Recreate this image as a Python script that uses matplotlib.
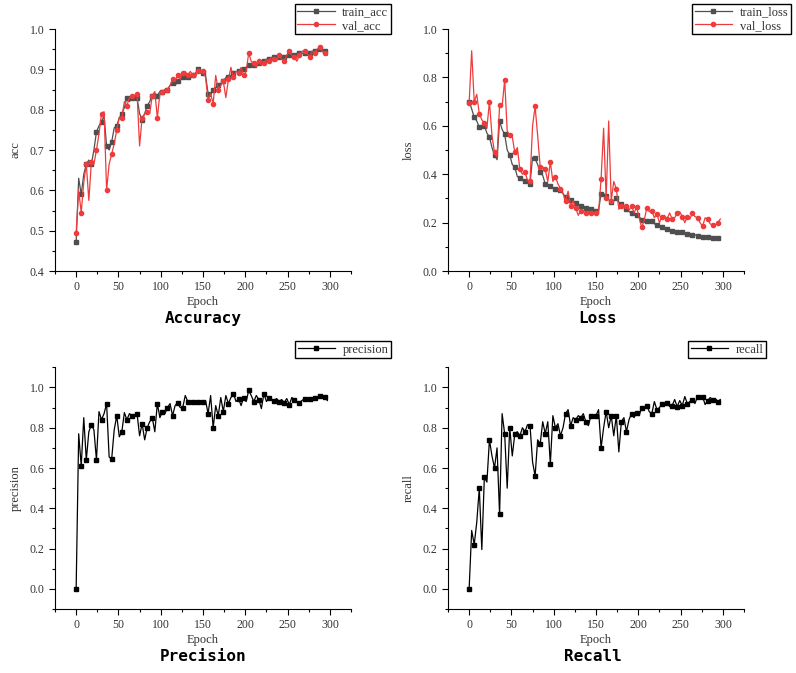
import matplotlib
matplotlib.use('Agg')
import matplotlib.pyplot as plt
from matplotlib.ticker import MultipleLocator

plt.rc('font', family='Liberation Serif')

# epochs sampled every 3
epochs = list(range(0, 300, 3))

train_acc = [0.473, 0.630, 0.590, 0.640, 0.665, 0.675, 0.665, 0.700, 0.745, 0.760,
             0.770, 0.785, 0.710, 0.700, 0.720, 0.755, 0.760, 0.780, 0.790, 0.805,
             0.830, 0.820, 0.830, 0.835, 0.830, 0.790, 0.775, 0.790, 0.810, 0.820,
             0.835, 0.840, 0.835, 0.845, 0.845, 0.850, 0.850, 0.860, 0.865, 0.860,
             0.870, 0.875, 0.880, 0.885, 0.880, 0.885, 0.885, 0.890, 0.900, 0.890,
             0.890, 0.885, 0.840, 0.835, 0.850, 0.855, 0.860, 0.865, 0.870, 0.880,
             0.880, 0.885, 0.890, 0.895, 0.895, 0.900, 0.900, 0.905, 0.910, 0.915,
             0.910, 0.915, 0.915, 0.920, 0.920, 0.925, 0.925, 0.925, 0.930, 0.930,
             0.930, 0.935, 0.930, 0.935, 0.935, 0.935, 0.935, 0.940, 0.940, 0.940,
             0.940, 0.945, 0.940, 0.945, 0.945, 0.945, 0.950, 0.945, 0.945, 0.945]

val_acc = [0.495, 0.600, 0.545, 0.620, 0.665, 0.575, 0.670, 0.665, 0.700, 0.740,
           0.790, 0.795, 0.600, 0.665, 0.690, 0.715, 0.750, 0.780, 0.780, 0.820,
           0.810, 0.830, 0.835, 0.835, 0.840, 0.710, 0.780, 0.790, 0.795, 0.790,
           0.835, 0.845, 0.780, 0.840, 0.845, 0.850, 0.850, 0.860, 0.875, 0.870,
           0.885, 0.875, 0.890, 0.895, 0.885, 0.895, 0.885, 0.880, 0.895, 0.890,
           0.895, 0.880, 0.825, 0.840, 0.815, 0.885, 0.850, 0.860, 0.870, 0.830,
           0.875, 0.905, 0.880, 0.895, 0.890, 0.905, 0.885, 0.895, 0.940, 0.920,
           0.915, 0.905, 0.920, 0.910, 0.915, 0.925, 0.920, 0.930, 0.925, 0.920,
           0.935, 0.925, 0.920, 0.935, 0.945, 0.935, 0.930, 0.920, 0.935, 0.945,
           0.945, 0.940, 0.930, 0.945, 0.940, 0.950, 0.955, 0.945, 0.940, 0.935]

train_loss = [0.700, 0.670, 0.635, 0.620, 0.595, 0.590, 0.600, 0.570, 0.555, 0.510,
              0.480, 0.460, 0.620, 0.585, 0.565, 0.500, 0.480, 0.440, 0.430, 0.390,
              0.385, 0.375, 0.370, 0.365, 0.360, 0.470, 0.465, 0.440, 0.410, 0.395,
              0.360, 0.355, 0.350, 0.345, 0.340, 0.340, 0.335, 0.320, 0.305, 0.300,
              0.295, 0.285, 0.280, 0.270, 0.270, 0.265, 0.260, 0.255, 0.255, 0.250,
              0.250, 0.250, 0.320, 0.320, 0.310, 0.295, 0.285, 0.290, 0.300, 0.285,
              0.275, 0.265, 0.255, 0.245, 0.240, 0.235, 0.230, 0.225, 0.210, 0.205,
              0.205, 0.210, 0.205, 0.195, 0.190, 0.185, 0.180, 0.180, 0.175, 0.170,
              0.165, 0.165, 0.160, 0.160, 0.160, 0.155, 0.155, 0.150, 0.150, 0.150,
              0.145, 0.145, 0.140, 0.140, 0.140, 0.135, 0.135, 0.135, 0.135, 0.130]

val_loss = [0.695, 0.910, 0.700, 0.730, 0.650, 0.625, 0.610, 0.590, 0.700, 0.560,
            0.490, 0.470, 0.685, 0.680, 0.790, 0.580, 0.560, 0.555, 0.490, 0.510,
            0.420, 0.400, 0.410, 0.375, 0.370, 0.600, 0.680, 0.560, 0.430, 0.430,
            0.420, 0.370, 0.450, 0.370, 0.390, 0.360, 0.340, 0.320, 0.290, 0.330,
            0.270, 0.290, 0.260, 0.230, 0.250, 0.245, 0.240, 0.245, 0.240, 0.235,
            0.240, 0.240, 0.380, 0.590, 0.300, 0.620, 0.290, 0.370, 0.340, 0.255,
            0.270, 0.260, 0.270, 0.250, 0.270, 0.240, 0.265, 0.220, 0.180, 0.210,
            0.260, 0.245, 0.250, 0.220, 0.235, 0.200, 0.225, 0.230, 0.215, 0.240,
            0.215, 0.220, 0.240, 0.245, 0.225, 0.200, 0.225, 0.215, 0.240, 0.225,
            0.220, 0.200, 0.185, 0.220, 0.215, 0.195, 0.190, 0.190, 0.200, 0.215]

precision = [0.000, 0.770, 0.610, 0.850, 0.640, 0.780, 0.815, 0.790, 0.640, 0.880,
             0.840, 0.870, 0.920, 0.655, 0.645, 0.790, 0.860, 0.755, 0.780, 0.875,
             0.840, 0.870, 0.860, 0.855, 0.870, 0.760, 0.820, 0.740, 0.800, 0.830,
             0.850, 0.780, 0.920, 0.850, 0.880, 0.870, 0.900, 0.920, 0.860, 0.910,
             0.925, 0.900, 0.900, 0.960, 0.930, 0.920, 0.930, 0.915, 0.930, 0.925,
             0.930, 0.935, 0.870, 0.960, 0.800, 0.910, 0.860, 0.950, 0.880, 0.960,
             0.920, 0.950, 0.970, 0.930, 0.945, 0.910, 0.950, 0.930, 0.985, 0.960,
             0.930, 0.960, 0.940, 0.895, 0.970, 0.930, 0.950, 0.940, 0.935, 0.945,
             0.930, 0.940, 0.925, 0.945, 0.915, 0.950, 0.940, 0.930, 0.925, 0.935,
             0.945, 0.940, 0.945, 0.930, 0.950, 0.940, 0.960, 0.960, 0.955, 0.935]

recall = [0.000, 0.290, 0.220, 0.330, 0.500, 0.195, 0.555, 0.530, 0.740, 0.660,
          0.600, 0.700, 0.370, 0.870, 0.770, 0.500, 0.800, 0.660, 0.770, 0.780,
          0.760, 0.800, 0.780, 0.815, 0.810, 0.630, 0.560, 0.740, 0.720, 0.830,
          0.770, 0.830, 0.620, 0.860, 0.800, 0.820, 0.760, 0.800, 0.870, 0.890,
          0.810, 0.850, 0.840, 0.860, 0.850, 0.870, 0.830, 0.810, 0.860, 0.850,
          0.860, 0.890, 0.700, 0.800, 0.880, 0.800, 0.860, 0.760, 0.860, 0.680,
          0.830, 0.850, 0.780, 0.840, 0.870, 0.850, 0.875, 0.860, 0.900, 0.890,
          0.910, 0.880, 0.870, 0.930, 0.890, 0.900, 0.920, 0.910, 0.925, 0.905,
          0.910, 0.940, 0.905, 0.935, 0.910, 0.955, 0.920, 0.930, 0.940, 0.920,
          0.955, 0.950, 0.955, 0.915, 0.935, 0.950, 0.940, 0.945, 0.930, 0.940]

GRAY = '#4f4f4f'
RED = '#ef3b3b'
TXT = '#333333'

fig = plt.figure(figsize=(7.96, 6.73), dpi=100)

def setup(ax, ylim, ymaj, ymin, ylabel):
    ax.set_xlim(-25, 325)
    ax.set_ylim(*ylim)
    ax.spines['top'].set_visible(False)
    ax.spines['right'].set_visible(False)
    ax.xaxis.set_major_locator(MultipleLocator(50))
    ax.xaxis.set_minor_locator(MultipleLocator(25))
    ax.yaxis.set_major_locator(MultipleLocator(ymaj))
    ax.yaxis.set_minor_locator(MultipleLocator(ymin))
    ax.yaxis.set_major_formatter(matplotlib.ticker.FormatStrFormatter('%.1f'))
    ax.tick_params(which='major', direction='out', length=4, width=0.8,
                   labelsize=8.5, labelcolor=TXT)
    ax.tick_params(which='minor', direction='out', length=2.5, width=0.8)
    ax.set_xlabel('Epoch', fontsize=9, color=TXT, labelpad=2)
    ax.set_ylabel(ylabel, fontsize=9, color=TXT, labelpad=6)

def legend(ax, anchor):
    leg = ax.legend(loc='upper right', bbox_to_anchor=anchor,
                    bbox_transform=fig.transFigure, fontsize=9,
                    fancybox=False, framealpha=1, edgecolor='black',
                    handlelength=3.0, borderpad=0.2, labelspacing=0.1,
                    handletextpad=0.6, borderaxespad=0)
    leg.get_frame().set_linewidth(1.0)
    for t in leg.get_texts():
        t.set_color(TXT)

# Accuracy
ax1 = fig.add_axes([0.0691, 0.5973, 0.3719, 0.3596])
ax1.plot(epochs, train_acc, color=GRAY, lw=0.9, marker='s', ms=3, markevery=2, label='train_acc')
ax1.plot(epochs, val_acc, color=RED, lw=0.9, marker='o', ms=3, markevery=2, label='val_acc')
setup(ax1, (0.4, 1.0), 0.1, 0.05, 'acc')
legend(ax1, (0.4912, 0.9941))

# Loss
ax2 = fig.add_axes([0.5628, 0.5973, 0.3719, 0.3596])
ax2.plot(epochs, train_loss, color=GRAY, lw=0.9, marker='s', ms=3, markevery=2, label='train_loss')
ax2.plot(epochs, val_loss, color=RED, lw=0.9, marker='o', ms=3, markevery=2, label='val_loss')
setup(ax2, (0.0, 1.0), 0.2, 0.1, 'loss')
legend(ax2, (0.9937, 0.9941))

# Precision
ax3 = fig.add_axes([0.0691, 0.0951, 0.3719, 0.3591])
ax3.plot(epochs, precision, color='black', lw=0.9, marker='s', ms=3, markevery=2, label='precision')
setup(ax3, (-0.1, 1.1), 0.2, 0.1, 'precision')
legend(ax3, (0.4912, 0.4933))

# Recall
ax4 = fig.add_axes([0.5628, 0.0951, 0.3719, 0.3591])
ax4.plot(epochs, recall, color='black', lw=0.9, marker='s', ms=3, markevery=2, label='recall')
setup(ax4, (-0.1, 1.1), 0.2, 0.1, 'recall')
legend(ax4, (0.9623, 0.4933))

title_kw = dict(ha='center', va='center', fontsize=11.5, fontweight='bold',
                family='DejaVu Sans Mono')
fig.text(0.255, 0.527, 'Accuracy', **title_kw)
fig.text(0.750, 0.527, 'Loss', **title_kw)
fig.text(0.255, 0.024, 'Precision', **title_kw)
fig.text(0.745, 0.024, 'Recall', **title_kw)

fig.savefig('out.png', dpi=100)
